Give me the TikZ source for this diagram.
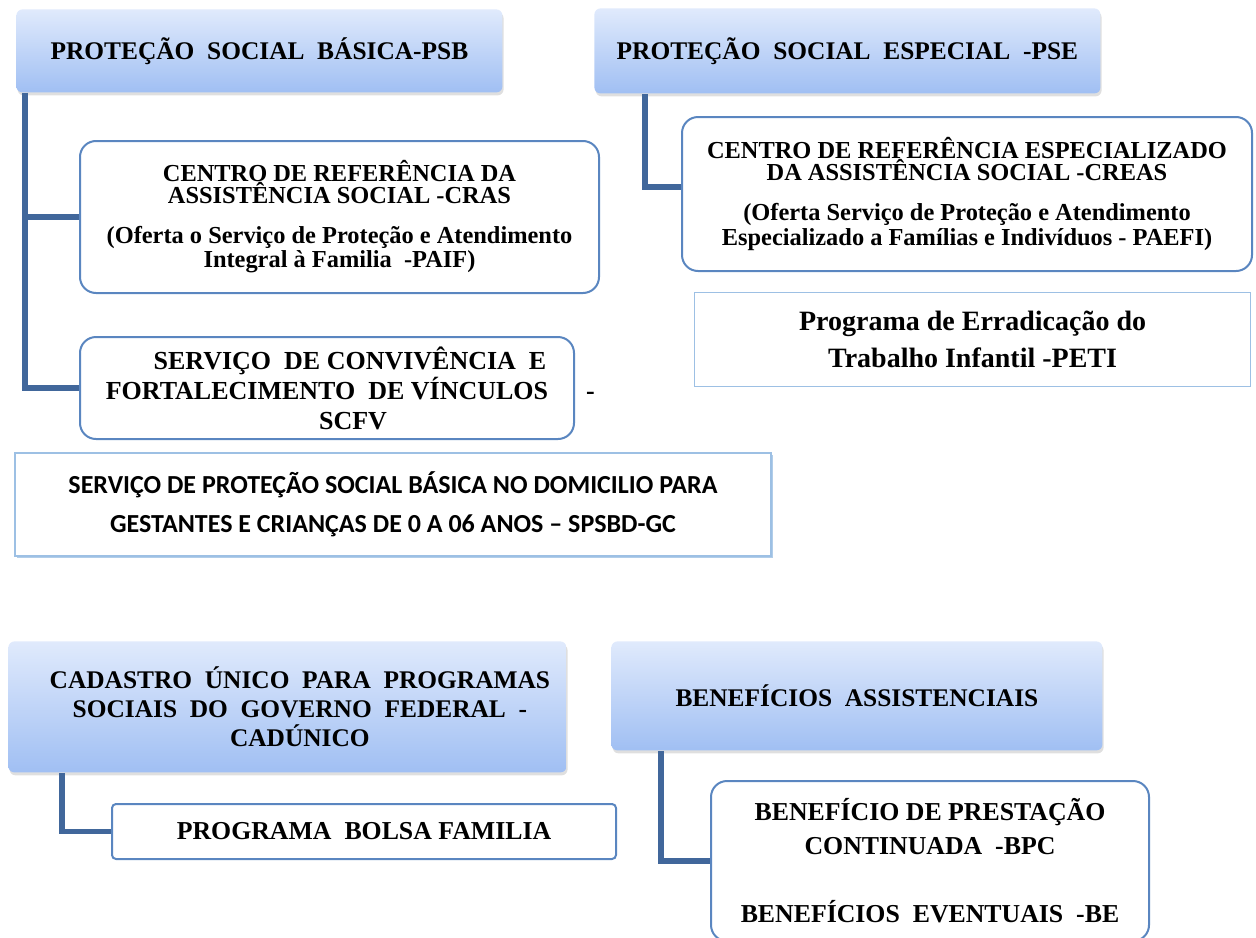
\documentclass[tikz,border=0pt]{standalone}
\usepackage{fontspec}
\setmainfont{Liberation Serif}
\newfontfamily\carlito{Carlito}
\usepackage{tikz}
\usetikzlibrary{shadows}
\usepackage{xcolor}
\definecolor{headtop}{HTML}{E0EAFC}
\definecolor{headbot}{HTML}{A0BFF3}
\definecolor{linkblue}{HTML}{41679B}
\definecolor{boxblue}{HTML}{5A86C0}
\definecolor{paleblue}{HTML}{9DC0E4}

\begin{document}
\begin{tikzpicture}[x=0.5pt,y=-0.5pt,
  head/.style={rectangle,rounded corners=3pt,top color=headtop,bottom color=headbot,draw=none,
    drop shadow={shadow xshift=0.6pt,shadow yshift=-1.5pt,opacity=0.25},
    anchor=north west,inner sep=0pt,align=center,font=\bfseries\fontsize{12.7}{14.5}\selectfont},
  child/.style={rectangle,rounded corners=8pt,draw=boxblue,line width=1pt,fill=white,
    anchor=north west,inner sep=0pt,align=center,font=\bfseries\fontsize{12.2}{11}\selectfont},
  plainbox/.style={rectangle,draw=paleblue,fill=white,anchor=north west,inner sep=0pt,align=center},
  link/.style={draw=linkblue,line width=2.8pt}]
\useasboundingbox (0,0) rectangle (1256,937);

\node [head,minimum width=243pt,minimum height=41.5pt,at={(16,9)}] (psb) {PROTEÇÃO~ SOCIAL~ BÁSICA-PSB};
\node [child,minimum width=259.5pt,minimum height=76pt,at={(79,140)}] (cras)
  {CENTRO DE REFERÊNCIA DA\\ASSISTÊNCIA SOCIAL -CRAS\\[9pt](Oferta o Serviço de Proteção e Atendimento\\Integral à Familia~ -PAIF)};
\node [child,font=\bfseries\fontsize{13}{15}\selectfont,minimum width=247pt,minimum height=51pt,at={(79,336)}] (scfv)
  {\hspace*{23pt}SERVIÇO~ DE CONVIVÊNCIA~ E\\FORTALECIMENTO~ DE VÍNCULOS\rlap{\hspace{19pt}-}\\\hspace*{26pt}SCFV};
\node [plainbox,line width=1pt,drop shadow={shadow xshift=0.8pt,shadow yshift=-0.8pt,fill=paleblue,opacity=0.8},
  font=\carlito\bfseries\fontsize{13}{19.5}\selectfont,minimum width=378pt,minimum height=51.5pt,at={(14,452)}] (spsbd)
  {SERVIÇO DE PROTEÇÃO SOCIAL BÁSICA NO DOMICILIO PARA\\GESTANTES E CRIANÇAS DE 0 A 06 ANOS – SPSBD-GC};

\node [head,minimum width=253pt,minimum height=42.5pt,at={(594,8)}] (pse) {PROTEÇÃO~ SOCIAL~ ESPECIAL~ -PSE};
\node [child,font=\bfseries\fontsize{12.2}{10.75}\selectfont,minimum width=285pt,minimum height=77pt,at={(681,116)}] (creas)
  {CENTRO DE REFERÊNCIA ESPECIALIZADO\\DA ASSISTÊNCIA SOCIAL -CREAS\\[9.5pt](Oferta Serviço de Proteção e Atendimento\\Especializado a Famílias e Indivíduos - PAEFI)};
\node [plainbox,line width=0.6pt,font=\bfseries\fontsize{14}{18.5}\selectfont,minimum width=278pt,minimum height=47pt,at={(694,292)}] (peti)
  {Programa de Erradicação do\\Trabalho Infantil -PETI};

\node [head,minimum width=279pt,minimum height=65.5pt,at={(8,641)}] (cad)
  {\hspace*{12.5pt}CADASTRO~ ÚNICO~ PARA~ PROGRAMAS\\\hspace*{12.5pt}SOCIAIS~ DO~ GOVERNO~ FEDERAL~ -\\\hspace*{12.5pt}CADÚNICO};
\node [child,rounded corners=2pt,font=\bfseries\fontsize{12.9}{15}\selectfont,minimum width=252pt,minimum height=27.5pt,at={(111,803)}] (bolsa)
  {PROGRAMA~ BOLSA FAMILIA};

\node [head,minimum width=245.5pt,minimum height=54.5pt,at={(611,641)}] (ben) {BENEFÍCIOS~ ASSISTENCIAIS};
\node [child,font=\bfseries\fontsize{12.9}{17}\selectfont,minimum width=219pt,minimum height=80pt,at={(710,780)}] (bpc)
  {BENEFÍCIO DE PRESTAÇÃO\\CONTINUADA~ -BPC\\[17pt]BENEFÍCIOS~ EVENTUAIS~ -BE};

\draw [link] ([xshift=4.5pt]psb.south west) |- (cras.west);
\draw [link] ([xshift=4.5pt]psb.south west) |- (scfv.west);
\draw [link] ([xshift=25.5pt]pse.south west) |- ([yshift=3.5pt]creas.west);
\draw [link] ([xshift=27pt]cad.south west) |- (bolsa.west);
\draw [link] ([xshift=25pt]ben.south west) |- (bpc.west);
\end{tikzpicture}
\end{document}
